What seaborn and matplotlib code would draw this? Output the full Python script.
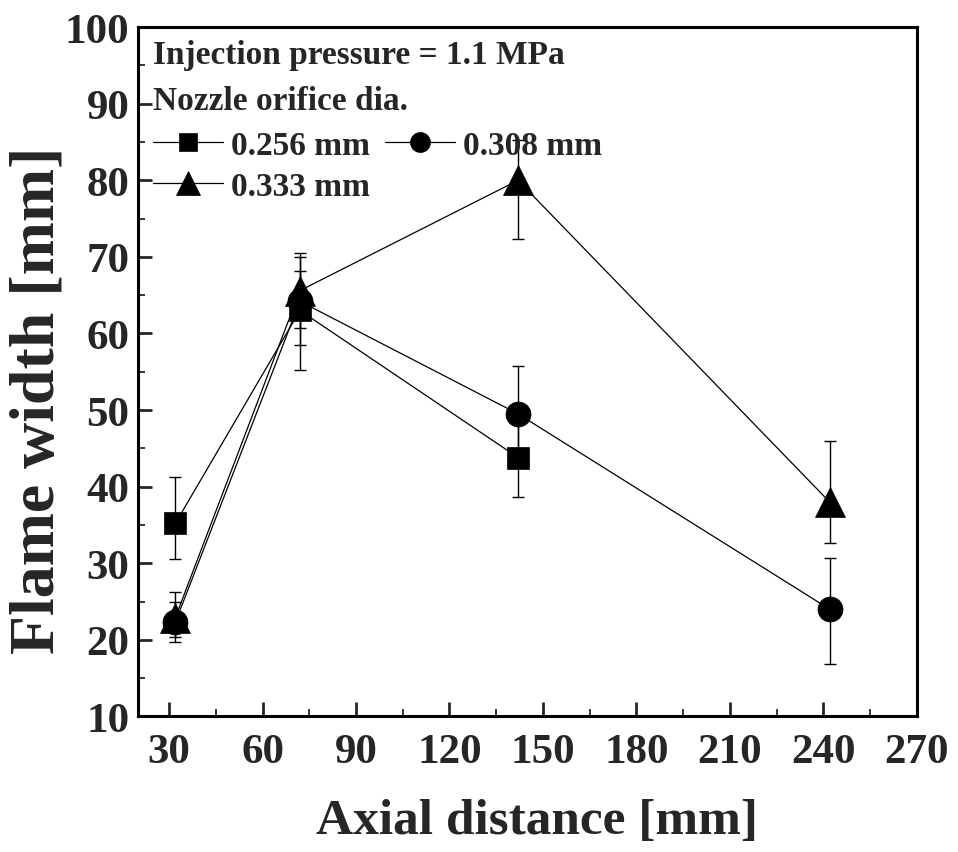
import matplotlib
matplotlib.use("Agg")
import matplotlib.pyplot as plt
import numpy as np
import pandas as pd
import seaborn as sns
from matplotlib.ticker import MultipleLocator

# ---------------- data ----------------
labels = ["0.256 mm", "0.308 mm", "0.333 mm"]

x_256 = [32, 72, 142]
y_256 = [35.2, 63.0, 43.8]
lo_256 = [4.7, 7.8, 5.1]
hi_256 = [6.0, 7.0, 5.1]

x_308 = [32, 72, 142, 242]
y_308 = [22.3, 64.2, 49.5, 24.0]
lo_308 = [2.6, 5.7, 6.3, 7.1]
hi_308 = [2.6, 6.3, 6.3, 6.7]

x_333 = [32, 72, 142, 242]
y_333 = [22.9, 65.6, 80.0, 38.0]
lo_333 = [2.6, 4.9, 7.6, 5.4]
hi_333 = [3.3, 2.5, 5.3, 8.0]

x_ticks = [30, 60, 90, 120, 150, 180, 210, 240, 270]
y_ticks = [10, 20, 30, 40, 50, 60, 70, 80, 90, 100]

header1 = "Injection pressure = 1.1 MPa"
header2 = "Nozzle orifice dia."
xlabel = "Axial distance [mm]"
ylabel = "Flame width [mm]"

# ---------------- style ----------------
sns.set_theme(style="ticks")
plt.rcParams["font.family"] = ["Liberation Serif", "DejaVu Serif"]
plt.rcParams["font.weight"] = "bold"
plt.rcParams["axes.labelweight"] = "bold"

fig = plt.figure(figsize=(9.58, 8.53), dpi=100)
ax = fig.add_axes([0.144, 0.159, 0.813, 0.808])

series = [
    (labels[0], x_256, y_256, lo_256, hi_256, "s", 16),
    (labels[1], x_308, y_308, lo_308, hi_308, "o", 18),
    (labels[2], x_333, y_333, lo_333, hi_333, "^", 22),
]

for lab, xs, ys, lo, hi, mk, ms in series:
    ax.errorbar(xs, ys, yerr=[lo, hi], fmt="none", ecolor="black",
                elinewidth=1.0, capsize=4.5, capthick=1.0, zorder=2)
    df = pd.DataFrame({"x": xs, "y": ys})
    sns.lineplot(data=df, x="x", y="y", ax=ax, color="black", marker=mk,
                 markersize=ms, markeredgecolor="black", markeredgewidth=0.5,
                 linewidth=0.9, label=lab, errorbar=None, legend=False, zorder=3)

ax.set_xlim(20, 270)
ax.set_ylim(10, 100)
ax.set_xticks(x_ticks)
ax.set_yticks(y_ticks)
ax.xaxis.set_minor_locator(MultipleLocator(15))
ax.yaxis.set_minor_locator(MultipleLocator(5))
ax.tick_params(axis="both", which="major", direction="in", length=10, width=2,
               labelsize=31, top=False, right=False)
ax.tick_params(axis="both", which="minor", direction="in", length=5, width=1.3,
               top=False, right=False)
ax.tick_params(axis="x", which="major", pad=12)
ax.tick_params(axis="y", which="major", pad=6)
for lbl in ax.get_xticklabels() + ax.get_yticklabels():
    lbl.set_fontweight("bold")
for sp in ax.spines.values():
    sp.set_linewidth(2.2)
    sp.set_color("black")

ax.set_xlabel(xlabel, fontsize=37, fontweight="bold")
ax.set_ylabel(ylabel, fontsize=46, fontweight="bold")
ax.xaxis.set_label_coords(0.512, -0.118)
ax.yaxis.set_label_coords(-0.090, 0.46)

ax.text(0.019, 0.961, header1, transform=ax.transAxes, fontsize=24,
        fontweight="bold", va="center", ha="left", zorder=5)
ax.text(0.019, 0.893, header2, transform=ax.transAxes, fontsize=24,
        fontweight="bold", va="center", ha="left", zorder=5)

h, l = ax.get_legend_handles_labels()
hd = dict(zip(l, h))
order = [labels[0], labels[2], labels[1]]
leg = ax.legend([hd[k] for k in order], order, loc="upper left",
                bbox_to_anchor=(0.019, 0.851), ncol=2, frameon=False,
                prop={"weight": "bold", "size": 24},
                borderpad=0, borderaxespad=0, handlelength=2.1,
                handletextpad=0.25, columnspacing=0.45, labelspacing=0.3,
                markerscale=0.8)
leg.set_zorder(5)

fig.savefig("out.png", dpi=100)
